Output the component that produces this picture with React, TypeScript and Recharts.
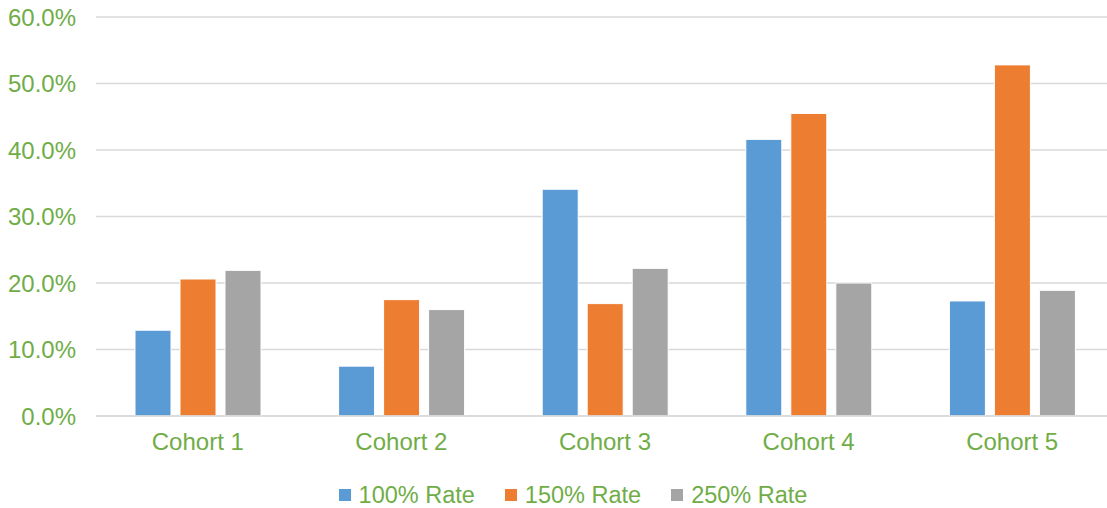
import React from "react";
import { BarChart, Bar, XAxis, YAxis, CartesianGrid, Legend } from "recharts";

const categories = ["Cohort 1", "Cohort 2", "Cohort 3", "Cohort 4", "Cohort 5"];
const rate100 = [12.9, 7.5, 34.1, 41.6, 17.3];
const rate150 = [20.6, 17.5, 16.9, 45.5, 52.8];
const rate250 = [21.9, 16.0, 22.2, 20.0, 18.9];
const yTicks = [0, 10, 20, 30, 40, 50, 60];

const seriesNames = ["100% Rate", "150% Rate", "250% Rate"];
const seriesColors = ["#5B9BD5", "#ED7D31", "#A5A5A5"];

const data = categories.map((c, i) => ({
  name: c,
  r100: rate100[i],
  r150: rate150[i],
  r250: rate250[i],
}));

const GREEN = "#70AD47";
const FONT = "'Liberation Sans', Arial, sans-serif";

const LegendContent = () => (
  <div
    style={{
      display: "flex",
      justifyContent: "center",
      alignItems: "center",
      fontFamily: FONT,
      fontSize: 23.5,
      color: GREEN,
      height: 40,
      paddingTop: 14,
      boxSizing: "border-box",
      paddingLeft: 32,
    }}
  >
    {seriesNames.map((n, i) => (
      <div key={n} style={{ display: "flex", alignItems: "center", marginRight: i < 2 ? 30 : 0 }}>
        <span style={{ display: "inline-block", width: 12, height: 12, background: seriesColors[i], marginRight: 8 }} />
        <span>{n}</span>
      </div>
    ))}
  </div>
);

export default function App() {
  return (
    <div style={{ position: "absolute", left: 0, top: 0, width: 1107, height: 508, overflow: "hidden", background: "#fff" }}>
      <BarChart
        width={1120}
        height={508}
        data={data}
        margin={{ top: 17, right: 6, left: 0, bottom: 0 }}
        barSize={36}
        barGap={9}
      >
        <CartesianGrid vertical={false} stroke="#D9D9D9" strokeWidth={1.5} />
        <XAxis
          dataKey="name"
          axisLine={{ stroke: "#D9D9D9", strokeWidth: 1.5 }}
          tickLine={false}
          tickSize={0}
          tickMargin={17}
          height={52}
          tick={{ fill: GREEN, fontSize: 24, fontFamily: FONT }}
        />
        <YAxis
          domain={[0, 60]}
          ticks={yTicks}
          width={96}
          axisLine={false}
          tickLine={false}
          tickSize={0}
          tickMargin={20}
          tickFormatter={(v: number) => v.toFixed(1) + "%"}
          tick={{ fill: GREEN, fontSize: 24, fontFamily: FONT }}
        />
        <Legend verticalAlign="bottom" height={40} content={<LegendContent />} />
        <Bar dataKey="r100" name={seriesNames[0]} fill={seriesColors[0]} stroke="#fff" strokeWidth={1} isAnimationActive={false} />
        <Bar dataKey="r150" name={seriesNames[1]} fill={seriesColors[1]} stroke="#fff" strokeWidth={1} isAnimationActive={false} />
        <Bar dataKey="r250" name={seriesNames[2]} fill={seriesColors[2]} stroke="#fff" strokeWidth={1} isAnimationActive={false} />
      </BarChart>
    </div>
  );
}
